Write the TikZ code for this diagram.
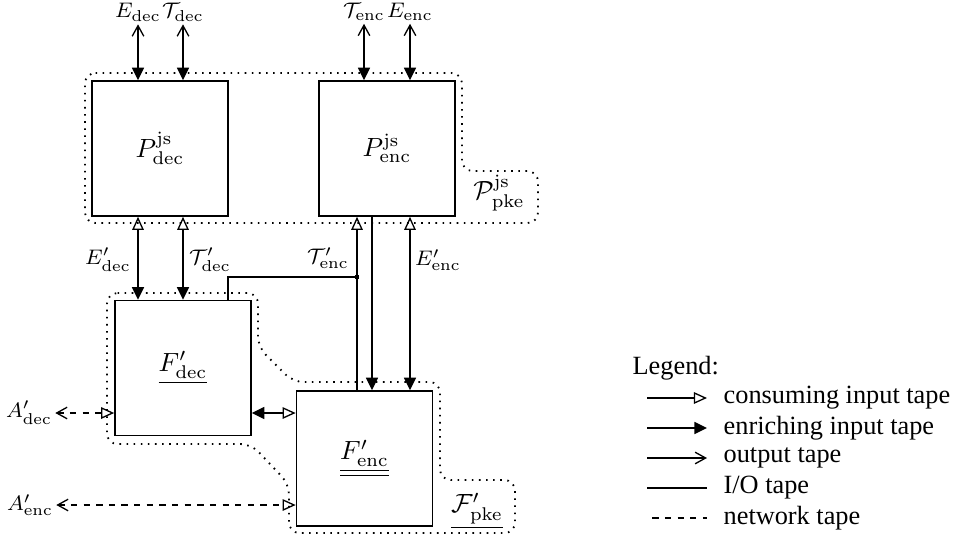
\documentclass[tikz,border=0pt]{standalone}
\usepackage[no-math]{fontspec}
\setmainfont{Liberation Serif}
\usetikzlibrary{arrows.meta}
\tikzset{
  etip/.tip={Triangle[length=4.8pt,width=4.6pt]},
  ctip/.tip={Triangle[open,length=5pt,width=4.4pt]},
  otip/.tip={Straight Barb[length=4pt,width=4.4pt,line width=0.5pt]},
}
\begin{document}
\begin{tikzpicture}[x=0.38pt,y=-0.38pt,
  line width=0.5pt,
  box/.style={draw, line width=0.6pt, minimum width=51.7pt, minimum height=51.3pt, inner sep=0pt},
  lab/.style={font=\footnotesize, inner sep=1pt},
  grp/.style={dash pattern=on 0.6pt off 2.1pt, line width=0.7pt, rounded corners=4pt},
  net/.style={dash pattern=on 2.4pt off 2.4pt},
  legtext/.style={anchor=west, inner sep=0pt},
]
\useasboundingbox (0,0) rectangle (954,544);

% boxes
\node[box] (Pdec) at (160,148.5) {$P^{\mathrm{js}}_{\mathrm{dec}}$};
\node[box] (Penc) at (387,148.5) {$P^{\mathrm{js}}_{\mathrm{enc}}$};
\node[box] (Fdec) at (183,368) {$\underline{F'_{\mathrm{dec}}}$};
\node[box] (Fenc) at (364.5,458.5) {$\underline{\underline{F'_{\mathrm{enc}}}}$};

% groups
\draw[grp] (85,73) -- (462,73) -- (462,171) -- (538,171) -- (538,223) -- (85,223) -- cycle;
\draw[grp] (107,293) -- (258,293) -- (258,347) -- (293,382) -- (440,382) -- (440,480)
  -- (515,480) -- (515,533) -- (289,533) -- (289,484) -- (251,444) -- (107,444) -- cycle;
\node (Ppke) at (499,193) {$\mathcal{P}^{\mathrm{js}}_{\mathrm{pke}}$};
\node (Fpke) at (477,511) {$\underline{\mathcal{F}'_{\mathrm{pke}}}$};

% top labels and arrows
\node[lab] (Edec) at (138,12) {$E_{\mathrm{dec}}$};
\node[lab] (Tdec) at (183,12) {$\mathcal{T}_{\mathrm{dec}}$};
\node[lab] (Tenc) at (364,12) {$\mathcal{T}_{\mathrm{enc}}$};
\node[lab] (Eenc) at (410,12) {$E_{\mathrm{enc}}$};
\draw[otip-etip] (Edec.south) -- (Edec.south |- Pdec.north);
\draw[otip-etip] (Tdec.south) -- (Tdec.south |- Pdec.north);
\draw[otip-etip] (Tenc.south) -- (Tenc.south |- Penc.north);
\draw[otip-etip] (Eenc.south) -- (Eenc.south |- Penc.north);

% middle tapes
\draw[ctip-etip] (Edec.south |- Pdec.south) -- (Edec.south |- Fdec.north);
\draw[ctip-etip] (Tdec.south |- Pdec.south) -- (Tdec.south |- Fdec.north);
\node[lab] (Edecp) at (108,260) {$E'_{\mathrm{dec}}$};
\node[lab] (Tdecp) at (210,260) {$\mathcal{T}'_{\mathrm{dec}}$};
\node[lab] (Tencp) at (328,258) {$\mathcal{T}'_{\mathrm{enc}}$};
\node[lab] (Eencp) at (438,260) {$E'_{\mathrm{enc}}$};

\node[fill, minimum size=1.6pt, inner sep=0pt] (J) at (357,277) {};
\coordinate (xj) at (228,0);
\coordinate (xo) at (372,0);
\coordinate (xe) at (410,0);
\draw[ctip-] (J |- Penc.south) -- (J |- Fenc.north);
\draw (J.center) -| (xj |- Fdec.north);
\draw[-etip] (xo |- Penc.south) -- (xo |- Fenc.north);
\draw[ctip-etip] (xe |- Penc.south) -- (xe |- Fenc.north);

% F'dec - F'enc
\coordinate (yf) at (0,413);
\draw[etip-ctip] (yf -| Fdec.east) -- (yf -| Fenc.west);

% network tapes
\node[lab] (Adec) at (29,413) {$A'_{\mathrm{dec}}$};
\node[lab] (Aenc) at (30,505) {$A'_{\mathrm{enc}}$};
\draw[net, otip-ctip] (Adec.east) -- (Adec.east -| Fdec.west);
\draw[net, otip-ctip] (Aenc.east) -- (Aenc.east -| Fenc.west);

% legend
\node[legtext] (leg) at (632,368) {Legend:};
\node[legtext] (t1) at (723,398) {consuming input tape};
\node[legtext] (t2) at (723,428) {enriching input tape};
\node[legtext] (t3) at (723,458) {output tape};
\node[legtext] (t4) at (723,488) {I/O tape};
\node[legtext] (t5) at (723,518) {network tape};
\coordinate (ls) at (647,0);
\coordinate (le) at (707,0);
\draw[-ctip] (ls |- t1.west) -- (le |- t1.west);
\draw[-etip] (ls |- t2.west) -- (le |- t2.west);
\draw[-otip] (ls |- t3.west) -- (le |- t3.west);
\draw (ls |- t4.west) -- (le |- t4.west);
\draw[net] ([xshift=2pt]ls |- t5.west) -- (le |- t5.west);
\end{tikzpicture}
\end{document}
